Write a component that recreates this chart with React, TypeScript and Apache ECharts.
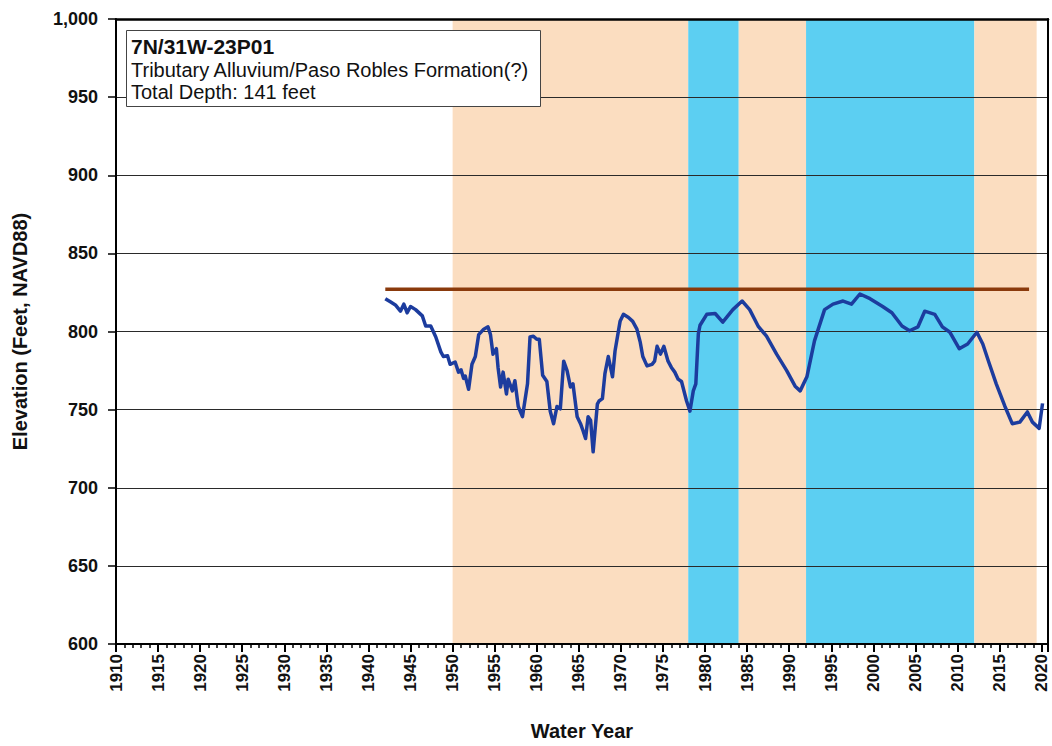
import React, { useEffect, useRef } from "react";
import * as echarts from "echarts";

// Groundwater elevation hydrograph (water year, feet NAVD88)
const wellYears = [
  1942.0, 1942.6, 1943.2, 1943.8, 1944.2, 1944.6, 1945.0, 1945.6, 1946.4, 1946.8,
  1947.4, 1948.0, 1948.6, 1948.9, 1949.4, 1949.7, 1950.3, 1950.7, 1951.0, 1951.3,
  1951.5, 1951.9, 1952.3, 1952.7, 1953.1, 1953.7, 1954.2, 1954.5, 1954.8, 1955.2,
  1955.4, 1955.7, 1956.0, 1956.4, 1956.6, 1957.1, 1957.4, 1957.8, 1958.3, 1958.4,
  1958.9, 1959.2, 1959.6, 1960.0, 1960.3, 1960.7, 1961.2, 1961.6, 1962.0, 1962.4,
  1962.8, 1963.2, 1963.6, 1964.0, 1964.3, 1964.8, 1965.2, 1965.5, 1965.8, 1966.1,
  1966.4, 1966.7, 1967.2, 1967.4, 1967.8, 1968.1, 1968.5, 1969.0, 1969.3, 1969.9,
  1970.3, 1970.9, 1971.4, 1971.9, 1972.3, 1972.6, 1973.1, 1973.7, 1974.0, 1974.3,
  1974.7, 1975.1, 1975.6, 1976.0, 1976.4, 1976.8, 1977.2, 1977.8, 1978.2, 1978.6,
  1978.9, 1979.2, 1979.4, 1980.2, 1981.2, 1982.1, 1983.3, 1984.4, 1985.3, 1986.3,
  1987.3, 1988.5, 1989.7, 1990.7, 1991.3, 1992.1, 1993.0, 1994.2, 1995.2, 1996.4,
  1997.4, 1998.4, 1999.6, 2001.1, 2002.2, 2003.4, 2004.3, 2005.3, 2006.1, 2007.3,
  2008.2, 2009.1, 2010.2, 2011.2, 2012.3, 2013.0, 2013.8, 2014.6, 2015.6, 2016.5,
  2017.4, 2018.3, 2018.9, 2019.7, 2020.1,
];
const wellElev = [
  821, 819, 817, 813, 817.5, 812, 816, 814, 810, 803.5,
  803.5, 796.5, 787, 784, 784.5, 779, 780.5, 774, 775.5, 770,
  771.5, 763, 779, 784, 798, 801.5, 803, 798, 785.5, 789,
  777, 764.5, 774, 760, 769.5, 762, 768.5, 752, 745.5, 749,
  766.5, 796.5, 797, 795, 795, 772, 768, 749, 741, 752,
  750.5, 781, 775, 764.5, 766.5, 745.5, 741, 736.5, 731.5, 745.5,
  743, 723, 753.5, 755.5, 757, 773, 784, 771, 787.5, 806.5,
  811, 809, 806.5, 801.5, 793, 784, 778, 779, 781, 790.5,
  785.5, 790.5, 781, 777, 774, 769.5, 768, 755.5, 749, 762,
  766.5, 798.5, 804, 811, 811.5, 806, 814, 819.5, 814, 803.5,
  797, 785.5, 775, 765, 762, 771, 794, 814, 817.5, 819.5,
  817.5, 824, 821, 816, 812, 803.5, 800.5, 803, 813, 811,
  803, 799.5, 789, 792, 799.5, 792, 779, 766.5, 752.5, 741,
  742, 748.5, 742, 738, 754,
];

// Reference level line
const refYears = [1942, 2018.5];
const refElev = [827, 827];

// Climate period bands
const bandStart = [1950, 1978, 1984, 1992, 2012];
const bandEnd = [1978, 1984, 1992, 2012, 2019.4];
const bandKind = ["dry", "wet", "dry", "wet", "dry"];

const boxLines = [
  "7N/31W-23P01",
  "Tributary Alluvium/Paso Robles Formation(?)",
  "Total Depth: 141 feet",
];

const xMin = 1910;
const xMax = 2020.75;
const yMin = 600;
const yMax = 1000;

const FONT = "Liberation Sans";
const PEACH = "#FBDDC0";
const BLUE = "#5CCFF2";

export default function App() {
  const ref = useRef<HTMLDivElement>(null);

  useEffect(() => {
    if (!ref.current) return;
    const chart = echarts.init(ref.current, undefined, { renderer: "svg" });

    const option: any = {
      animation: false,
      backgroundColor: "#ffffff",
      textStyle: { fontFamily: FONT },
      grid: { left: 116, top: 19, width: 932, height: 631, containLabel: false },
      xAxis: [
        {
          type: "value",
          min: xMin,
          max: xMax,
          interval: 5,
          position: "bottom",
          z: 1,
          name: "Water Year",
          nameLocation: "middle",
          nameGap: 77,
          nameTextStyle: { fontFamily: FONT, fontWeight: "bold", fontSize: 20, color: "#111" },
          axisLine: { show: true, lineStyle: { color: "#000", width: 2 } },
          axisTick: { show: true, length: 8, lineStyle: { color: "#000", width: 2 } },
          axisLabel: {
            rotate: 90,
            margin: 10,
            fontFamily: FONT,
            fontWeight: "bold",
            fontSize: 17,
            color: "#111",
            formatter: (v: number) => (Math.abs(v % 5) < 1e-6 ? String(v) : ""),
          },
          splitLine: { show: false },
        },
        {
          type: "value",
          min: xMin,
          max: xMax,
          interval: 1,
          position: "bottom",
          z: 1,
          axisLine: { show: false },
          axisTick: { show: true, length: 4, lineStyle: { color: "#000", width: 1.5 } },
          axisLabel: { show: false },
          splitLine: { show: false },
        },
        {
          type: "value",
          min: xMin,
          max: xMax,
          position: "top",
          z: 1,
          axisLine: { show: true, lineStyle: { color: "#000", width: 2.5 } },
          axisTick: { show: false },
          axisLabel: { show: false },
          splitLine: { show: false },
        },
      ],
      yAxis: [
        {
          type: "value",
          min: yMin,
          max: yMax,
          interval: 50,
          z: 1,
          name: "Elevation (Feet, NAVD88)",
          nameLocation: "middle",
          nameGap: 86,
          nameTextStyle: { fontFamily: FONT, fontWeight: "bold", fontSize: 20, color: "#111" },
          axisLine: { show: true, lineStyle: { color: "#000", width: 2 } },
          axisTick: { show: true, length: 8, lineStyle: { color: "#000", width: 1.5 } },
          axisLabel: {
            margin: 18,
            fontFamily: FONT,
            fontWeight: "bold",
            fontSize: 18,
            color: "#111",
            formatter: (v: number) => v.toLocaleString("en-US"),
          },
          splitLine: { show: true, lineStyle: { color: "#2a2a2a", width: 1 } },
        },
        {
          type: "value",
          min: yMin,
          max: yMax,
          position: "right",
          z: 1,
          axisLine: { show: true, lineStyle: { color: "#000", width: 2 } },
          axisTick: { show: false },
          axisLabel: { show: false },
          splitLine: { show: false },
        },
      ],
      series: [
        {
          type: "custom",
          name: "bands",
          xAxisIndex: 0,
          yAxisIndex: 0,
          z: 0,
          silent: true,
          clip: true,
          encode: { x: [0, 1] },
          data: bandStart.map((s, i) => [s, bandEnd[i], bandKind[i] === "wet" ? 1 : 0]),
          renderItem: (params: any, api: any) => {
            const p0 = api.coord([api.value(0), yMax]);
            const p1 = api.coord([api.value(1), yMin]);
            return {
              type: "rect",
              shape: { x: p0[0], y: p0[1], width: p1[0] - p0[0], height: p1[1] - p0[1] },
              style: { fill: api.value(2) === 1 ? BLUE : PEACH },
            };
          },
        },
        {
          type: "line",
          name: "Reference",
          xAxisIndex: 0,
          yAxisIndex: 0,
          z: 3,
          showSymbol: false,
          data: refYears.map((x, i) => [x, refElev[i]]),
          lineStyle: { color: "#8A3A0C", width: 3.5 },
        },
        {
          type: "line",
          name: "Groundwater Elevation",
          xAxisIndex: 0,
          yAxisIndex: 0,
          z: 4,
          showSymbol: false,
          data: wellYears.map((x, i) => [x, wellElev[i]]),
          lineStyle: { color: "#1C3C9E", width: 3.5, join: "round" },
        },
      ],
      graphic: [
        {
          type: "rect",
          left: 126,
          top: 30,
          z: 100,
          shape: { x: 0, y: 0, width: 414, height: 76 },
          style: { fill: "#ffffff", stroke: "#444", lineWidth: 1 },
        },
        {
          type: "text",
          left: 131,
          top: 36,
          z: 101,
          style: { text: boxLines[0], font: `bold 21px "${FONT}"`, fill: "#111" },
        },
        {
          type: "text",
          left: 131,
          top: 60,
          z: 101,
          style: { text: boxLines[1], font: `20px "${FONT}"`, fill: "#111" },
        },
        {
          type: "text",
          left: 131,
          top: 82,
          z: 101,
          style: { text: boxLines[2], font: `20px "${FONT}"`, fill: "#111" },
        },
      ],
    };

    chart.setOption(option);
    return () => chart.dispose();
  }, []);

  return (
    <div
      ref={ref}
      style={{ position: "fixed", left: 0, top: 0, width: 1052, height: 746 }}
    />
  );
}
